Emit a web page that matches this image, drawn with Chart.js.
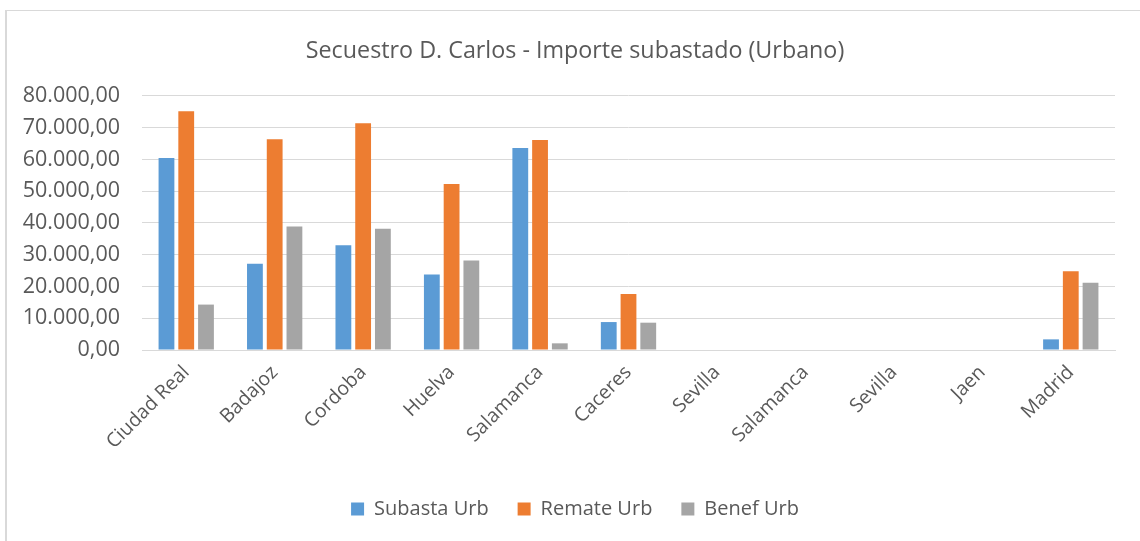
<!DOCTYPE html>
<html>
<head>
<meta charset="utf-8">
<script src="https://cdn.jsdelivr.net/npm/chart.js@4/dist/chart.umd.min.js"></script>
<style>
  html, body { margin: 0; padding: 0; background: #ffffff; }
  body { width: 1140px; height: 541px; position: relative; overflow: hidden; }
  #frame {
    position: absolute; left: 5px; top: 10px; width: 1135px; height: 531px;
    border-top: 1px solid #D9D9D9; border-left: 2px solid #D9D9D9; box-sizing: border-box;
  }
  #wrap { position: absolute; left: 7px; top: 11px; width: 1133px; height: 530px; }
</style>
</head>
<body>
<div id="frame"></div>
<div id="wrap"><canvas id="chart"></canvas></div>
<script>
const categories = ['Ciudad Real', 'Badajoz', 'Cordoba', 'Huelva', 'Salamanca', 'Caceres',
                    'Sevilla', 'Salamanca', 'Sevilla', 'Jaen', 'Madrid'];
const subastaUrb = [60500, 27200, 33000, 23800, 63600, 8800, 0, 0, 0, 0, 3350];
const remateUrb  = [75200, 66400, 71400, 52300, 66100, 17600, 0, 0, 0, 0, 24800];
const benefUrb   = [14300, 38900, 38200, 28200, 2100, 8600, 0, 0, 0, 0, 21200];
const yTicks = [0, 10000, 20000, 30000, 40000, 50000, 60000, 70000, 80000];

const textColor = '#595959';
const fontFamily = '"Open Sans", "Noto Sans", sans-serif';

function fmtEs(v) {
  const fixed = Math.abs(v).toFixed(2);
  const [intPart, dec] = fixed.split('.');
  const grouped = intPart.replace(/\B(?=(\d{3})+(?!\d))/g, '.');
  return (v < 0 ? '-' : '') + grouped + ',' + dec;
}

Chart.defaults.font.family = fontFamily;
Chart.defaults.color = textColor;

new Chart(document.getElementById('chart'), {
  type: 'bar',
  data: {
    labels: categories,
    datasets: [
      { label: 'Subasta Urb', data: subastaUrb, backgroundColor: '#5B9BD5' },
      { label: 'Remate Urb', data: remateUrb, backgroundColor: '#ED7D31' },
      { label: 'Benef Urb', data: benefUrb, backgroundColor: '#A5A5A5' }
    ]
  },
  options: {
    responsive: true,
    maintainAspectRatio: false,
    animation: false,
    layout: { padding: { left: 28, right: 25, top: 26, bottom: 12 } },
    datasets: { bar: { categoryPercentage: 0.67, barPercentage: 0.8 } },
    plugins: {
      title: {
        display: true,
        text: 'Secuestro D. Carlos - Importe subastado (Urbano)',
        color: textColor,
        font: { size: 23.3, weight: 'normal', family: fontFamily },
        padding: { top: 0, bottom: 31 }
      },
      legend: {
        position: 'bottom',
        labels: {
          boxWidth: 13, boxHeight: 13, padding: 29,
          color: textColor,
          font: { size: 20, family: fontFamily }
        }
      },
      tooltip: { enabled: false }
    },
    scales: {
      x: {
        grid: { display: false },
        border: { color: '#D9D9D9', width: 1 },
        ticks: {
          maxRotation: 45, minRotation: 45,
          color: textColor,
          font: { size: 19.5, family: fontFamily },
          padding: 3
        },
        afterFit(scale) { scale.height = 120; }
      },
      y: {
        min: 0, max: 80000,
        afterBuildTicks(scale) { scale.ticks = yTicks.map(v => ({ value: v })); },
        grid: { color: '#D9D9D9', lineWidth: 1, drawTicks: false },
        border: { display: false },
        ticks: {
          color: textColor,
          font: { size: 21.5, family: fontFamily },
          padding: 22,
          callback: v => fmtEs(v)
        },
        afterFit(scale) {
          scale.width = 107;
          // let the long value labels run into the left margin without being clipped
          scale._computeLabelArea = () => null;
        }
      }
    }
  }
});
</script>
</body>
</html>
